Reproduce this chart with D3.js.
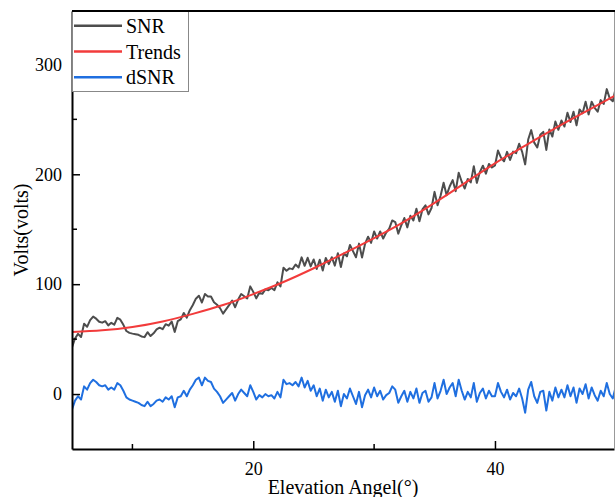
<!DOCTYPE html>
<html lang="en">
<head>
  <meta charset="UTF-8">
  <title>SNR / Trends / dSNR vs Elevation Angle</title>
  <script src="https://d3js.org/d3.v7.min.js"></script>
  <style>
    body { margin: 0; background: #fff; }
    svg { display: block; }
    text { font-family: "Liberation Serif", "Times New Roman", serif; fill: #000; }
  </style>
</head>
<body>
  <svg width="615" height="497"></svg>

  <script>
    // elevation angle grid, 0.25 degree steps from 5 to 50
    const angleStart = 5, angleStep = 0.25;

    // SNR (volts), one value per 0.25 deg
    const snrValues = [
      42.5, 50.6, 54.8, 51.9,  64, 61.2, 67.3, 70.5,  68.6, 65.8, 65, 66.3,
      62.5, 64.8, 63.1, 69.4,  67.7, 63, 57.4, 55.7,  55, 54.5, 53.9, 52.4,
      51.8, 56.3, 52.8, 55.3,  58.8, 60.4, 59, 63.6,  62.2, 65.9, 56.6, 66.3,
      68, 73.8, 69.5, 76.3,  81, 86.8, 89.5, 83.3,  91, 88.8, 88.7, 83.5,
      81.3, 78.2, 73.2, 77.1,  81, 85, 79, 86,  91, 89, 87, 98,
      93, 87.1, 92.2, 91.2,  95.3, 94.4, 96.5, 94.6,  101.7, 97.9, 115, 112.2,
      114.4, 113.7, 117.9, 115.2,  124.4, 116.7, 124, 116.2,  122.5, 113.8, 122.2, 112.5,
      123.8, 118.2, 124.5, 116.9,  128.2, 115.6, 128, 125.3,  135.7, 130.1, 124.5, 136.9,
      124.3, 136.7, 143.2, 137.6,  148, 141.5, 148, 141.5,  147, 150.5, 158, 156.5,
      146, 153.6, 160.2, 151.7,  162.3, 158, 168.7, 157.3,  168, 171.8, 163.5, 169.3,
      184, 171.8, 180.5, 192.3,  181, 188.9, 194.7, 184.6,  201.4, 193.2, 187, 195.8,
      192.6, 207.4, 192.2, 202,  207.8, 200.6, 209.4, 206.2,  208, 221.6, 215.2, 211.8,
      220.4, 213, 220.6, 219.2,  227.8, 220.4, 209, 231.6,  240.2, 228.8, 224.4, 236,
      238.6, 222.2, 240.8, 234.4,  248, 240.5, 249, 243.5,  256, 247.5, 257, 244.5,
      259, 255.5, 266, 254.5,  266, 260.5, 257, 267.5,  264, 277.5, 269, 266.5,
      279
    ];

    // dSNR (detrended SNR), same grid
    const dsnrValues = [
      -14, -6, -2, -5,  7, 4, 10, 13,  11, 8, 7, 8,  4, 6, 4, 10,
      8, 3, -3, -5,  -6, -7, -8, -10,  -11, -7, -11, -9,  -6, -5, -7, -3,
      -5, -2, -12, -3,  -2, 3, -2, 4,  8, 13, 15, 8,  15, 12, 11, 5,
      2, -2, -8, -5,  -2, 1, -6, 0,  4, 1, -2, 8,  2, -5, -1, -3,
      0, -2, -1, -4,  2, -3, 13, 9,  10, 8, 11, 7,  15, 6, 12, 3,
      8, -2, 5, -6,  4, -3, 2, -7,  3, -11, 0, -4,  5, -2, -9, 2,
      -12, -1, 4, -3,  6, -2, 3, -5,  -1, 1, 7, 4,  -8, -2, 3, -7,
      2, -4, 5, -8,  1, 3, -7, -3,  10, -4, 3, 13,  0, 6, 10, -2,
      13, 3, -5, 2,  -3, 10, -7, 1,  5, -4, 3, -2,  -2, 10, 2, -3,
      4, -5, 1, -2,  5, -4, -17, 4,  11, -2, -8, 2,  3, -15, 2, -6,
      6, -3, 4, -3,  8, -2, 6, -8,  5, 0, 9, -4,  6, -1, -6, 3,
      -2, 10, 0, -4,  7
    ];

    // fitted trend, read at every 2.5 deg
    const trendAngles = [5, 7.5, 10, 12.5, 15, 17.5, 20, 22.5, 25, 27.5, 30, 32.5, 35, 37.5, 40, 42.5, 45, 47.5, 50];
    const trendValues = [56.5, 58, 61, 66, 73, 81, 91, 102, 114.5, 128, 142, 157, 174, 192, 210, 226, 242, 257, 272];

    const xTicks = [20, 40];
    const xMinorTicks = [10, 30];
    const yTicks = [0, 100, 200, 300];
    const yMinorTicks = [50, 150, 250];

    const seriesNames = ["SNR", "Trends", "dSNR"];
    const colors = { SNR: "#4d4d4d", Trends: "#f23b3b", dSNR: "#1f6fe0" };

    const serif = '"Liberation Serif", "Times New Roman", serif';

    const snr = snrValues.map((v, i) => ({ a: angleStart + i * angleStep, v }));
    const dsnr = dsnrValues.map((v, i) => ({ a: angleStart + i * angleStep, v }));
    const trend = trendAngles.map((a, i) => ({ a, v: trendValues[i] }));

    const plotLeft = 72, plotRight = 614, plotTop = 11, plotBottom = 449;

    const svg = d3.select("svg");

    const x = d3.scaleLinear().domain([5, 49.85]).range([plotLeft, plotRight]);
    const y = d3.scaleLinear().domain([-50, 348.6]).range([plotBottom, plotTop]);

    svg.append("defs").append("clipPath").attr("id", "plot")
      .append("rect")
      .attr("x", plotLeft).attr("y", plotTop)
      .attr("width", plotRight - plotLeft).attr("height", plotBottom - plotTop);

    const plot = svg.append("g").attr("clip-path", "url(#plot)");

    const line = d3.line().x(d => x(d.a)).y(d => y(d.v));
    const smooth = d3.line().x(d => x(d.a)).y(d => y(d.v)).curve(d3.curveNatural);

    plot.append("path").datum(snr)
      .attr("fill", "none").attr("stroke", colors.SNR)
      .attr("stroke-width", 2).attr("stroke-linejoin", "round")
      .attr("d", line);

    plot.append("path").datum(trend)
      .attr("fill", "none").attr("stroke", colors.Trends)
      .attr("stroke-width", 2)
      .attr("d", smooth);

    plot.append("path").datum(dsnr)
      .attr("fill", "none").attr("stroke", colors.dSNR)
      .attr("stroke-width", 2).attr("stroke-linejoin", "round")
      .attr("d", line);

    // axes, ticks pointing inward
    const gx = svg.append("g").attr("transform", `translate(0,${plotBottom})`);
    gx.call(d3.axisBottom(x).tickValues(xTicks).tickSizeInner(-8).tickSizeOuter(0).tickPadding(13));
    gx.append("g").selectAll("line").data(xMinorTicks).join("line")
      .attr("x1", d => x(d)).attr("x2", d => x(d))
      .attr("y1", 0).attr("y2", -5)
      .attr("stroke", "#000").attr("stroke-width", 1.5);

    const gy = svg.append("g").attr("transform", `translate(${plotLeft},0)`);
    gy.call(d3.axisLeft(y).tickValues(yTicks).tickSizeInner(-8).tickSizeOuter(0).tickPadding(10));
    gy.append("g").selectAll("line").data(yMinorTicks).join("line")
      .attr("y1", d => y(d)).attr("y2", d => y(d))
      .attr("x1", 0).attr("x2", 5)
      .attr("stroke", "#000").attr("stroke-width", 1.5);

    [gx, gy].forEach(g => {
      g.attr("font-family", serif).attr("font-size", 18);
      g.select(".domain").attr("stroke", "#000").attr("stroke-width", 2);
      g.selectAll(".tick line").attr("stroke", "#000").attr("stroke-width", 1.5);
      g.selectAll(".tick text")
        .style("font-family", serif)
        .style("font-size", "18px").attr("fill", "#000");
    });

    // right frame
    svg.append("line")
      .attr("x1", plotRight + 0.5).attr("x2", plotRight + 0.5)
      .attr("y1", plotTop).attr("y2", plotBottom)
      .attr("stroke", "#999").attr("stroke-width", 1);

    // legend
    const legend = svg.append("g");
    legend.append("rect")
      .attr("x", plotLeft + 0.5).attr("y", plotTop + 0.5)
      .attr("width", 116).attr("height", 80)
      .attr("fill", "#fff").attr("stroke", "#888").attr("stroke-width", 1);
    seriesNames.forEach((name, i) => {
      const ly = 25.7 + i * 25.8;
      legend.append("line")
        .attr("x1", 74).attr("x2", 122)
        .attr("y1", ly).attr("y2", ly)
        .attr("stroke", colors[name]).attr("stroke-width", 2.5);
      legend.append("text")
        .attr("x", 126).attr("y", ly + 7)
        .style("font-family", serif)
        .style("font-size", "20px")
        .text(name);
    });

    // top frame, drawn over the legend box
    svg.append("line")
      .attr("x1", plotLeft).attr("x2", plotRight + 1)
      .attr("y1", plotTop).attr("y2", plotTop)
      .attr("stroke", "#000").attr("stroke-width", 2);

    // axis titles
    svg.append("text")
      .attr("x", (plotLeft + plotRight) / 2).attr("y", 494)
      .attr("text-anchor", "middle")
      .style("font-family", serif)
      .style("font-size", "20px")
      .text("Elevation Angel(°)");

    svg.append("text")
      .attr("transform", `translate(28,${(plotTop + plotBottom) / 2}) rotate(-90)`)
      .attr("text-anchor", "middle")
      .style("font-family", serif)
      .style("font-size", "20px")
      .text("Volts(volts)");
  </script>
</body>
</html>
